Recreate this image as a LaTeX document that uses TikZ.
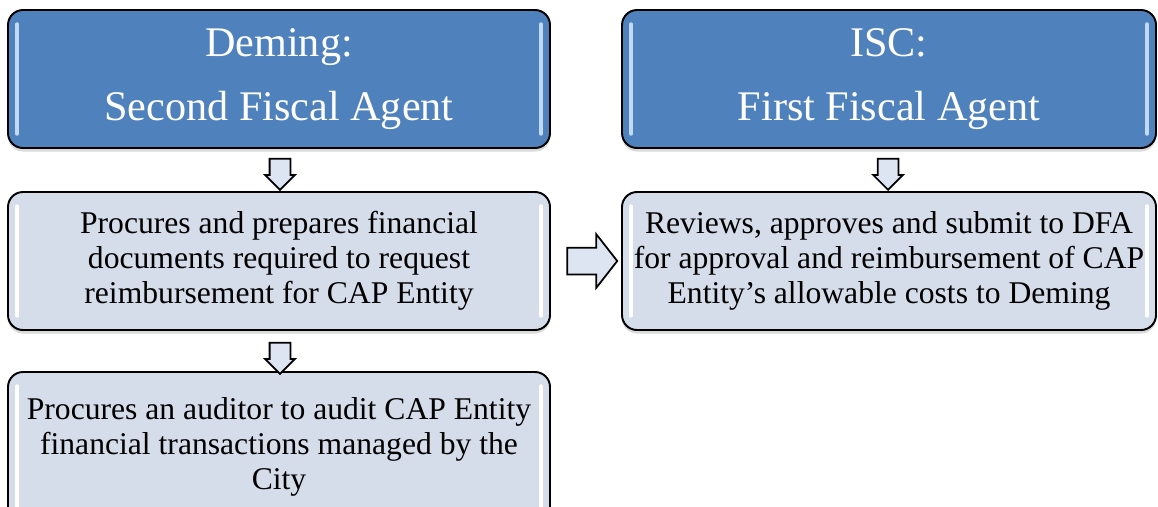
\documentclass[tikz,border=0pt]{standalone}
\usepackage{fontspec}
\setmainfont{Liberation Serif}
\usetikzlibrary{shapes.arrows,shadows}
\definecolor{headblue}{HTML}{4F81BD}
\definecolor{bodyfill}{HTML}{D5DDEA}
\definecolor{arrowfill}{HTML}{DCE5F1}
\definecolor{glosshead}{HTML}{C2D9F4}

\begin{document}
\begin{tikzpicture}[box/.style = {draw, line width=1.1pt, rounded corners=0.3cm, minimum height=2.76cm, inner sep=0pt, align=center, drop shadow={opacity=0.3, shadow xshift=0pt, shadow yshift=-2pt}},
		head/.style = {box, fill=headblue, text=white, font=\fontsize{24}{36}\selectfont},
		body/.style = {box, fill=bodyfill, font=\fontsize{18}{19.8}\selectfont},
		downarrow/.style = {draw, single arrow, shape border rotate=270, fill=arrowfill, line width=1pt, inner sep=0.19cm, single arrow head extend=0.09cm, minimum height=0.56cm},
		sidearrow/.style = {draw, single arrow, fill=arrowfill, line width=1pt, inner sep=0.25cm, single arrow head extend=0.27cm, single arrow tip angle=104, minimum height=1cm},
		gloss/.style = {line width=2pt, line cap=round}]
					\useasboundingbox (0,0) rectangle (23.16,-10.12);
					\node[head, minimum width=10.84cm] (deming) at (5.58,-1.58) {Deming:\\Second Fiscal Agent};
					\node[head, minimum width=10.68cm] (isc) at (17.78,-1.58) {ISC:\\First Fiscal Agent};
					\node[body, minimum width=10.84cm] (procure) at (5.58,-5.22) {Procures and prepares financial\\documents required to request\\reimbursement for CAP Entity};
					\node[body, minimum width=10.68cm] (review) at (17.78,-5.22) {Reviews, approves and submit to DFA\\for approval and reimbursement of CAP\\Entity’s allowable costs to Deming};
					\node[body, minimum width=10.84cm, minimum height=3cm] (audit) at (5.58,-8.94) {Procures an auditor to audit CAP Entity\\financial transactions managed by the\\City};
					
					\node[downarrow] (d1) at (5.6,-3.38) {};
					\node[downarrow] (d2) at (5.6,-7.06) {};
					\node[downarrow] (d3) at (17.76,-3.38) {};
					\node[sidearrow] (r1) at (11.74,-5.22) {};
					
					\foreach \n in {deming,isc} {
						\draw[gloss, glosshead] ([shift={(0.2,-0.3)}]\n.north west) -- ([shift={(0.2,0.3)}]\n.south west);
						\draw[gloss, glosshead] ([shift={(-0.2,-0.3)}]\n.north east) -- ([shift={(-0.2,0.3)}]\n.south east);
					}
					\foreach \n in {procure,review,audit} {
						\draw[gloss, white] ([shift={(0.2,-0.3)}]\n.north west) -- ([shift={(0.2,0.3)}]\n.south west);
						\draw[gloss, white] ([shift={(-0.2,-0.3)}]\n.north east) -- ([shift={(-0.2,0.3)}]\n.south east);
					}
				\end{tikzpicture}
\end{document}
